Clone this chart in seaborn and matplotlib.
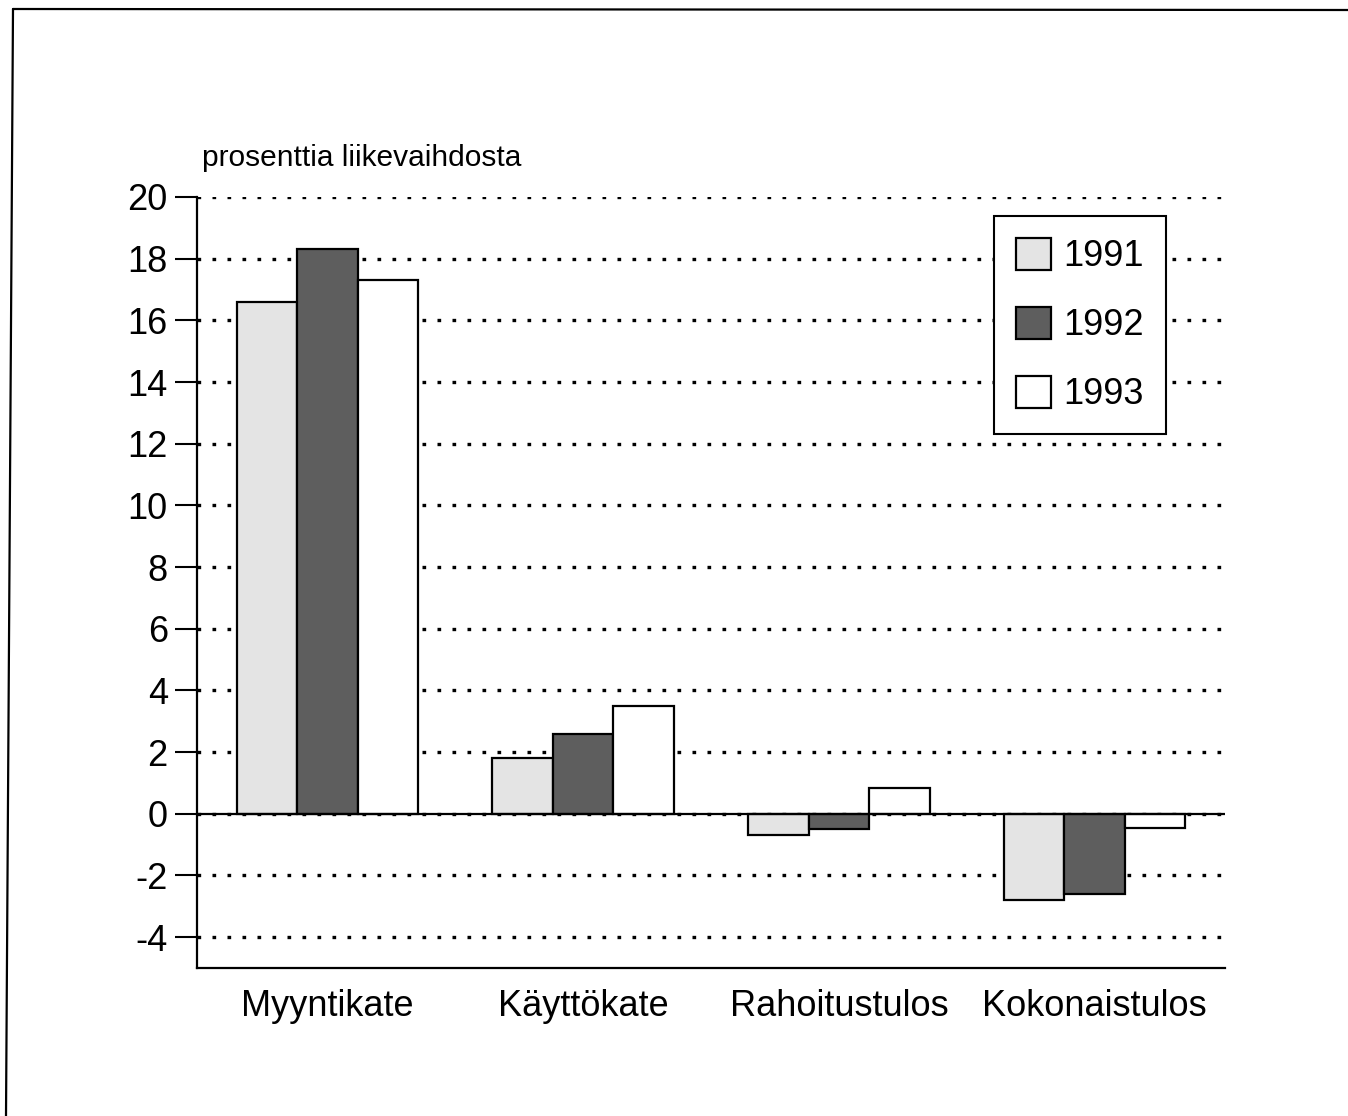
import matplotlib
matplotlib.use("Agg")
import matplotlib.pyplot as plt
from matplotlib.lines import Line2D
import seaborn as sns
import pandas as pd

categories = ["Myyntikate", "Käyttökate", "Rahoitustulos", "Kokonaistulos"]
years = ["1991", "1992", "1993"]
v1991 = [16.6, 1.8, -0.7, -2.8]
v1992 = [18.3, 2.6, -0.5, -2.6]
v1993 = [17.3, 3.5, 0.85, -0.45]
yticks = [-4, -2, 0, 2, 4, 6, 8, 10, 12, 14, 16, 18, 20]
ylabel = "prosenttia liikevaihdosta"

rows = []
for yr, vals in zip(years, [v1991, v1992, v1993]):
    for c, v in zip(categories, vals):
        rows.append({"kategoria": c, "vuosi": yr, "arvo": v})
df = pd.DataFrame(rows)

sns.set_theme(style="white")
plt.rcParams["font.family"] = ["Liberation Sans", "DejaVu Sans"]

fig = plt.figure(figsize=(13.48, 11.16), dpi=100)
ax = fig.add_axes([197 / 1348, 1 - 968 / 1116, 1028 / 1348, 771 / 1116])

palette = {"1991": "#e4e4e4", "1992": "#5e5e5e", "1993": "#ffffff"}
sns.barplot(data=df, x="kategoria", y="arvo", hue="vuosi", order=categories,
            hue_order=years, palette=palette, width=0.71, gap=0,
            edgecolor="black", linewidth=1.6, saturation=1, ax=ax, zorder=3)

ax.set_xlim(-0.51, 3.51)
ax.set_ylim(-5, 20)
ax.set_yticks(yticks)
ax.set_yticklabels([str(t) for t in yticks], fontsize=26)
ax.set_xlabel("")
ax.set_ylabel("")
ax.tick_params(axis="x", length=0, pad=15, labelsize=26)
ax.tick_params(axis="y", left=True, length=16, width=1.5, pad=5, color="black",
               direction="out")
for lab in ax.get_xticklabels() + ax.get_yticklabels():
    lab.set_color("black")

for s in ["top", "right"]:
    ax.spines[s].set_visible(False)
for s in ["left", "bottom"]:
    ax.spines[s].set_color("black")
    ax.spines[s].set_linewidth(1.6)

ax.set_axisbelow(True)
ax.yaxis.grid(True, color="black", linewidth=2.4, linestyle=(0, (1.1, 3.4)))
ax.xaxis.grid(False)
ax.axhline(0, color="black", linewidth=1.6, zorder=4)

ax.text(0.005, 1.05, ylabel, transform=ax.transAxes, ha="left", va="center",
        fontsize=21.5, color="black")

leg = ax.legend(loc="upper right", bbox_to_anchor=(0.9426, 0.9754),
                borderaxespad=0, fontsize=26, frameon=True, fancybox=False,
                handlelength=0.97, handleheight=1.0, handletextpad=0.35,
                labelspacing=0.9, borderpad=0.6, title=None)
leg.get_frame().set_edgecolor("black")
leg.get_frame().set_linewidth(1.5)
leg.get_frame().set_facecolor("white")
leg.get_frame().set_alpha(1)
for t in leg.get_texts():
    t.set_color("black")
leg.set_zorder(5)

fig.add_artist(Line2D([13 / 1348, 1.0], [1 - 9 / 1116, 1 - 10 / 1116],
                      transform=fig.transFigure, color="black", linewidth=1.6))
fig.add_artist(Line2D([13 / 1348, 6 / 1348], [1 - 9 / 1116, 0.0],
                      transform=fig.transFigure, color="black", linewidth=1.6))

fig.savefig("out.png", dpi=100, facecolor="white")
